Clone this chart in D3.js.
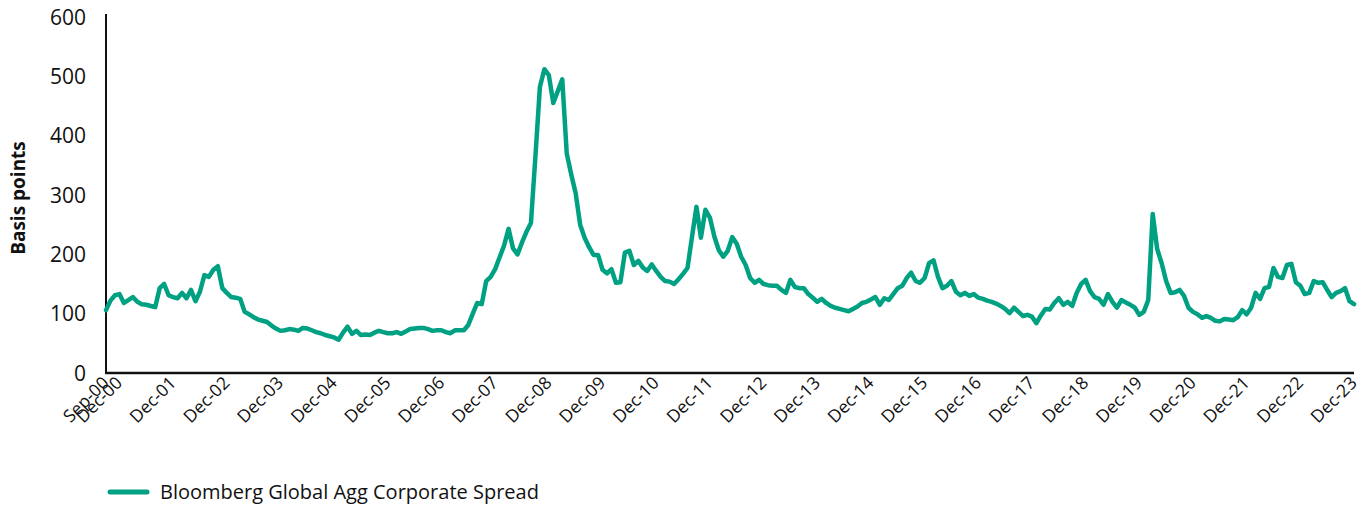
<!DOCTYPE html>
<html>
<head>
<meta charset="utf-8">
<script src="https://cdn.jsdelivr.net/npm/d3@7"></script>
<style>
  body { margin: 0; background: #fff; }
  text { font-family: "Open Sans", sans-serif; fill: #111; }
</style>
</head>
<body>
<div id="chart"></div>
<script>
// monthly spread values (basis points), Sep-00 onwards
var spread2000_2003 = [106,122,131,133,118,123,128,120,116,115,113,111,
  143,150,131,128,126,135,126,140,121,137,165,162,
  174,180,143,135,128,127,125,103,99,94,90,88,
  86,80,75,71,72,74,73,71,76,75,72,69];
var spread2004_2007 = [67,64,62,60,56,68,78,66,71,64,65,64,
  68,71,69,67,67,69,66,70,74,75,76,76,
  74,71,72,72,69,67,72,72,72,81,100,118,
  116,155,162,175,195,215,243,210,200,220,238,253];
var spread2008_2011 = [365,482,512,502,455,475,495,370,335,303,250,228,
  212,199,199,174,168,175,152,153,203,206,182,189,
  178,172,183,172,162,155,154,150,158,167,177,229,
  280,228,275,262,230,207,196,206,229,218,196,182];
var spread2012_2015 = [160,152,157,150,148,147,147,140,135,157,145,143,
  143,133,127,120,125,118,113,110,108,106,104,108,
  112,118,120,124,128,115,126,123,133,143,147,160,
  169,155,152,160,185,190,162,143,147,155,137,131];
var spread2016_2019 = [135,130,133,127,125,122,120,117,113,108,101,110,
  103,96,98,95,84,97,108,107,118,126,115,120,
  113,135,150,157,138,128,125,115,133,120,110,123,
  119,115,110,98,103,123,268,209,185,155,135,136];
var spread2020_2023 = [140,130,110,103,99,93,96,93,88,87,91,90,
  89,94,106,99,110,135,125,143,145,177,162,160,
  182,184,153,147,133,135,155,152,153,140,128,135,
  138,143,121,116];

var spreads = [].concat(spread2000_2003, spread2004_2007, spread2008_2011,
  spread2012_2015, spread2016_2019, spread2020_2023);

var tickIndex = [0,3,15,27,39,51,63,75,87,99,111,123,135,147,159,171,183,195,207,219,231,243,255,267,279];
var tickLabels = ["Sep-00","Dec-00","Dec-01","Dec-02","Dec-03","Dec-04","Dec-05","Dec-06",
  "Dec-07","Dec-08","Dec-09","Dec-10","Dec-11","Dec-12","Dec-13","Dec-14","Dec-15",
  "Dec-16","Dec-17","Dec-18","Dec-19","Dec-20","Dec-21","Dec-22","Dec-23"];
var yTicks = [0,100,200,300,400,500,600];
var seriesName = "Bloomberg Global Agg Corporate Spread";

var W = 1364, H = 506;
var margin = {top: 17, right: 10, bottom: 133, left: 106};
var width = W - margin.left - margin.right,
    height = H - margin.top - margin.bottom;

var svg = d3.select("#chart").append("svg")
  .attr("width", W)
  .attr("height", H);

var g = svg.append("g")
  .attr("transform", "translate(" + margin.left + "," + margin.top + ")");

var x = d3.scaleLinear()
  .domain([0, spreads.length - 1])
  .range([0, width]);

var y = d3.scaleLinear()
  .domain([0, 600])
  .range([height, 0]);

// y tick labels
g.selectAll("text.ytick")
  .data(yTicks)
  .enter().append("text")
  .attr("class", "ytick")
  .attr("x", -20)
  .attr("y", d => y(d))
  .attr("dy", "0.36em")
  .attr("text-anchor", "end")
  .attr("font-size", 21)
  .text(d => d);

// x tick labels, rotated -45
g.selectAll("text.xtick")
  .data(tickIndex)
  .enter().append("text")
  .attr("class", "xtick")
  .attr("text-anchor", "end")
  .attr("font-size", 17.5)
  .attr("transform", d => "translate(" + (x(d) + 4) + "," + (height + 11) + ") rotate(-45)")
  .text((d, i) => tickLabels[i]);

// axis lines
g.append("line")
  .attr("x1", 0).attr("x2", 0)
  .attr("y1", -3).attr("y2", height + 1)
  .attr("stroke", "#111").attr("stroke-width", 2);
g.append("line")
  .attr("x1", -1).attr("x2", width)
  .attr("y1", height).attr("y2", height)
  .attr("stroke", "#111").attr("stroke-width", 2.5);

// y label
svg.append("text")
  .attr("transform", "translate(25," + (margin.top + y(300) + 3) + ") rotate(-90)")
  .attr("text-anchor", "middle")
  .attr("font-size", 19)
  .attr("font-weight", "bold")
  .text("Basis points");

// the line
var line = d3.line()
  .x((d, i) => x(i))
  .y(d => y(d));

g.append("path")
  .datum(spreads)
  .attr("fill", "none")
  .attr("stroke", "#00A083")
  .attr("stroke-width", 4.5)
  .attr("stroke-linejoin", "round")
  .attr("stroke-linecap", "round")
  .attr("d", line);

// legend
svg.append("line")
  .attr("x1", 110).attr("x2", 147)
  .attr("y1", 492).attr("y2", 492)
  .attr("stroke", "#00A083")
  .attr("stroke-width", 5)
  .attr("stroke-linecap", "round");
svg.append("text")
  .attr("x", 160)
  .attr("y", 499)
  .attr("font-size", 20)
  .text(seriesName);
</script>
</body>
</html>
